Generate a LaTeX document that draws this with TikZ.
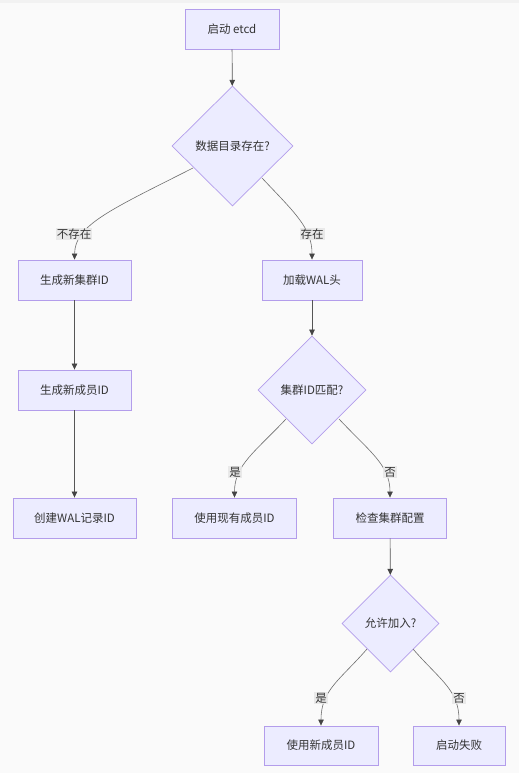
\documentclass[tikz,border=0pt]{standalone}
\usepackage{fontspec}
\setmainfont{Noto Sans CJK SC}
\usetikzlibrary{shapes.geometric,arrows.meta}
\definecolor{boxfill}{HTML}{ECECFF}
\definecolor{boxline}{HTML}{B39DEB}
\definecolor{edgecol}{HTML}{555555}
\definecolor{arrcol}{HTML}{444444}
\definecolor{txt}{HTML}{333333}
\definecolor{lblbg}{HTML}{E8E8E8}
\definecolor{bg}{HTML}{FAFAFA}
\definecolor{topbar}{HTML}{F2F2F2}
\begin{document}
\begin{tikzpicture}[x=1pt,y=-1pt,
  every node/.style={font=\fontsize{11.5}{13}\selectfont, text=txt},
  box/.style={draw=boxline, fill=boxfill, line width=0.9pt, rectangle, inner sep=0pt, minimum height=40pt},
  dia/.style={draw=boxline, fill=boxfill, line width=0.7pt, diamond, inner sep=0pt},
  lbl/.style={fill=lblbg, fill opacity=0.9, text opacity=1, inner sep=1pt},
  conn/.style={draw=edgecol, line width=0.7pt, -{Triangle[length=6pt,width=5.5pt,color=arrcol]}},
  curv/.style={draw=edgecol!85, line width=0.6pt, -{Triangle[length=6pt,width=5.5pt,color=arrcol]}}
]
\fill[bg] (0,0) rectangle (519,773);
\fill[topbar] (0,0) rectangle (519,3.5);
\useasboundingbox (0,0) rectangle (519,773);

\node[box, minimum width=94pt] (start) at (232,29) {启动 etcd};
\node[dia, minimum width=121pt, minimum height=120pt] (d1) at (232.5,146) {数据目录存在?};
\node[box, minimum width=113pt] (newcl) at (74.5,280) {生成新集群ID};
\node[box, minimum width=100pt] (wal) at (312,280) {加载WAL头};
\node[box, minimum width=113pt] (newmem) at (74.5,390) {生成新成员ID};
\node[dia, minimum width=108pt, minimum height=108pt] (d2) at (312,390) {集群ID匹配?};
\node[box, minimum width=123pt] (crwal) at (74.5,518) {创建WAL记录ID};
\node[box, minimum width=124pt] (useex) at (234.5,518) {使用现有成员ID};
\node[box, minimum width=113pt] (chk) at (390,518) {检查集群配置};
\node[dia, minimum width=97pt, minimum height=97pt] (d3) at (390.5,623.5) {允许加入?};
\node[box, minimum width=114pt, minimum height=39pt] (usenew) at (321,745.5) {使用新成员ID};
\node[box, minimum width=92pt, minimum height=39pt] (fail) at (459,745.5) {启动失败};

\coordinate (d1l) at (193,168);
\coordinate (d1r) at (262,178);
\coordinate (d2l) at (286,419);
\coordinate (d2r) at (339,419);
\coordinate (d3l) at (367,649);
\coordinate (d3r) at (413,649);

\draw[conn] (start) -- (d1);
\draw[conn] (wal) -- (d2);
\draw[conn] (newcl) -- (newmem);
\draw[conn] (newmem) -- (crwal);
\draw[conn] (chk) -- (d3);

\draw[curv] (d1l) .. controls (110,210) and (75,225) .. (newcl.north);
\draw[curv] (d1r) .. controls (295,213) and (312,228) .. (wal.north);
\draw[curv] (d2l) .. controls (255,452) and (234.5,465) .. (useex.north);
\draw[curv] (d2r) .. controls (370,452) and (390,465) .. (chk.north);
\draw[curv] (d3l) .. controls (340,680) and (321,690) .. (usenew.north);
\draw[curv] (d3r) .. controls (440,680) and (459,690) .. (fail.north);

\node[lbl] (l1) at (74,234) {不存在};
\node[lbl] (l2) at (312,234) {存在};
\node[lbl] (l3) at (235,472) {是};
\node[lbl] (l4) at (390,472) {否};
\node[lbl] (l5) at (321,698) {是};
\node[lbl] (l6) at (459,698) {否};
\end{tikzpicture}
\end{document}
